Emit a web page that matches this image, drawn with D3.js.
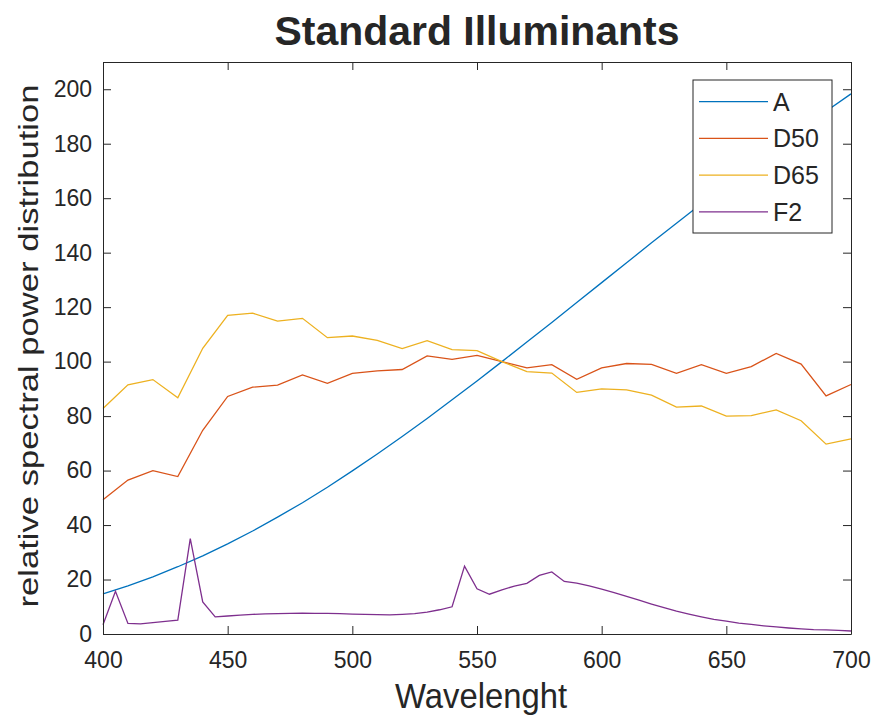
<!DOCTYPE html>
<html>
<head>
<meta charset="utf-8">
<script src="https://cdn.jsdelivr.net/npm/d3@7"></script>
<style>
  body { margin: 0; background: #fff; }
  text { font-family: "Liberation Sans", Arial, sans-serif; fill: #262626; }
</style>
</head>
<body>
<script>
// wavelengths (nm)
var wl10 = [400, 410, 420, 430, 440, 450, 460, 470, 480, 490, 500,
            510, 520, 530, 540, 550, 560, 570, 580, 590, 600,
            610, 620, 630, 640, 650, 660, 670, 680, 690, 700];
var wl5 = d3.range(400, 701, 5);

// illuminant values
var illumA = [14.7, 17.7, 21.0, 24.7, 28.7, 33.1, 37.8, 42.9, 48.2, 53.9, 59.9,
              66.1, 72.5, 79.1, 86.0, 92.9, 100.0, 107.2, 114.4, 121.7, 129.0,
              136.3, 143.6, 150.8, 158.0, 165.0, 172.0, 178.8, 185.4, 191.9, 198.3];
var illumD50 = [49.3, 56.5, 60.0, 57.8, 74.8, 87.2, 90.6, 91.4, 95.1, 92.0, 95.7,
                96.6, 97.1, 102.1, 100.8, 102.3, 100.0, 97.7, 98.9, 93.5, 97.7,
                99.3, 99.0, 95.7, 98.9, 95.7, 98.2, 103.0, 99.1, 87.4, 91.6];
var illumD65 = [82.8, 91.5, 93.4, 86.7, 104.9, 117.0, 117.8, 114.9, 115.9, 108.8, 109.4,
                107.8, 104.8, 107.7, 104.4, 104.0, 100.0, 96.3, 95.8, 88.7, 90.0,
                89.6, 87.7, 83.3, 83.7, 80.0, 80.2, 82.3, 78.3, 69.7, 71.6];
var illumF2 = [3.4, 15.7, 3.9, 3.7, 4.2, 4.6, 5.1, 35.0, 11.8, 6.3, 6.6,
               6.9, 7.2, 7.4, 7.5, 7.6, 7.7, 7.6, 7.6, 7.5, 7.3,
               7.2, 7.1, 7.0, 7.2, 7.5, 8.0, 8.9, 10.0, 24.9, 16.6,
               14.6, 16.2, 17.6, 18.6, 21.5, 22.8, 19.3, 18.7, 17.7, 16.5,
               15.2, 13.8, 12.4, 11.0, 9.7, 8.4, 7.3, 6.3, 5.4, 4.7,
               4.0, 3.5, 3.0, 2.6, 2.2, 1.9, 1.6, 1.5, 1.3, 1.1];

var seriesNames = ["A", "D50", "D65", "F2"];
var seriesColors = ["#0072BD", "#D95319", "#EDB120", "#7E2F8E"];
var xTicks = [400, 450, 500, 550, 600, 650, 700];
var yTicks = d3.range(0, 201, 20);

var w = 873;
var h = 717;
var plotL = 103, plotR = 851, plotT = 62, plotB = 634;

var svg = d3.select("body")
            .append("svg")
            .attr("width", w)
            .attr("height", h);

var xScale = d3.scaleLinear()
               .domain([400, 700])
               .range([plotL, plotR]);
var yScale = d3.scaleLinear()
               .domain([0, 210])
               .range([plotB, plotT]);

var series = [
  { name: seriesNames[0], x: wl10, y: illumA },
  { name: seriesNames[1], x: wl10, y: illumD50 },
  { name: seriesNames[2], x: wl10, y: illumD65 },
  { name: seriesNames[3], x: wl5, y: illumF2 }
];

var line = d3.line()
             .x(function(d) { return xScale(d[0]); })
             .y(function(d) { return yScale(d[1]); });

svg.append("g")
   .selectAll("path")
   .data(series)
   .enter()
   .append("path")
   .attr("d", function(s) {
     return line(s.x.map(function(v, i) { return [v, s.y[i]]; }));
   })
   .attr("fill", "none")
   .attr("stroke", function(d, i) { return seriesColors[i]; })
   .attr("stroke-width", 1.3);

// axes (MATLAB style box with inward ticks)
var tickLen = 8;
var xAxisB = d3.axisBottom(xScale).tickValues(xTicks).tickSizeInner(-tickLen).tickSizeOuter(0).tickPadding(18);
var xAxisT = d3.axisTop(xScale).tickValues(xTicks).tickSizeInner(-tickLen).tickSizeOuter(0).tickFormat("");
var yAxisL = d3.axisLeft(yScale).tickValues(yTicks).tickSizeInner(-tickLen).tickSizeOuter(0).tickPadding(11);
var yAxisR = d3.axisRight(yScale).tickValues(yTicks).tickSizeInner(-tickLen).tickSizeOuter(0).tickFormat("");

function styleAxis(g) {
  g.selectAll("path").attr("stroke", "#262626").attr("stroke-width", 1);
  g.selectAll("line").attr("stroke", "#262626").attr("stroke-width", 1);
  g.selectAll("text")
   .attr("font-family", "Liberation Sans, Arial, sans-serif")
   .attr("font-size", "23px")
   .attr("fill", "#262626");
}

svg.append("g").attr("transform", "translate(0," + plotB + ")").call(xAxisB).call(styleAxis);
svg.append("g").attr("transform", "translate(0," + plotT + ")").call(xAxisT).call(styleAxis);
svg.append("g").attr("transform", "translate(" + plotL + ",0)").call(yAxisL).call(styleAxis);
svg.append("g").attr("transform", "translate(" + plotR + ",0)").call(yAxisR).call(styleAxis);

// title and axis labels
svg.append("text")
   .text("Standard Illuminants")
   .attr("x", (plotL + plotR) / 2)
   .attr("y", 45)
   .attr("text-anchor", "middle")
   .attr("font-size", "40px")
   .attr("font-weight", "bold")
   .attr("fill", "#000")
   .attr("textLength", 405)
   .attr("lengthAdjust", "spacingAndGlyphs");

svg.append("text")
   .text("Wavelenght")
   .attr("x", 481)
   .attr("y", 708)
   .attr("text-anchor", "middle")
   .attr("font-size", "35px")
   .attr("textLength", 172)
   .attr("lengthAdjust", "spacingAndGlyphs");

svg.append("text")
   .text("relative spectral power distribution")
   .attr("transform", "translate(38," + 346 + ") rotate(-90)")
   .attr("text-anchor", "middle")
   .attr("font-size", "28px")
   .attr("textLength", 523)
   .attr("lengthAdjust", "spacingAndGlyphs");

// legend
var legend = svg.append("g");
legend.append("rect")
      .attr("x", 693)
      .attr("y", 80)
      .attr("width", 139)
      .attr("height", 153)
      .attr("fill", "#fff")
      .attr("stroke", "#262626")
      .attr("stroke-width", 1);

var items = legend.selectAll("g.item")
                  .data(seriesNames)
                  .enter()
                  .append("g")
                  .attr("transform", function(d, i) {
                    return "translate(0," + (101.7 + i * 36.7) + ")";
                  });
items.append("line")
     .attr("x1", 699)
     .attr("x2", 768)
     .attr("stroke", function(d, i) { return seriesColors[i]; })
     .attr("stroke-width", 1.3);
items.append("text")
     .text(function(d) { return d; })
     .attr("x", 773)
     .attr("y", 9)
     .attr("font-size", "25px")
     .attr("fill", "#000");
</script>
</body>
</html>
